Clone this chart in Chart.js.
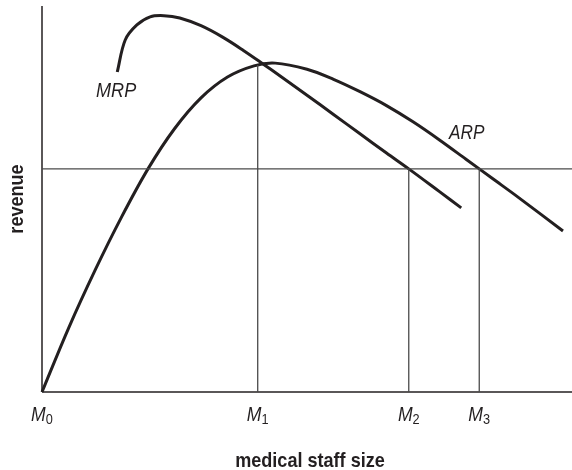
<!DOCTYPE html>
<html>
<head>
<meta charset="utf-8">
<script src="https://cdn.jsdelivr.net/npm/chart.js@4"></script>
<style>
  body { margin: 0; background: #fff; }
  canvas { display: block; }
</style>
</head>
<body>
<canvas id="chart" width="572" height="470"></canvas>
<script>
// curve samples (x: staff size 0-100, y: revenue 0-100)
const mrpX = [14.2, 15.7, 17.9, 20.4, 23, 26, 30, 34, 38, 41.7, 45, 50, 55, 60, 65, 69.2, 75, 79.1];
const mrpY = [82.9, 91.2, 95.1, 97.2, 97.5, 96.9, 94.9, 92.0, 88.5, 85.0, 81.8, 76.9, 71.9, 66.9, 61.9, 57.8, 51.9, 47.7];
const arpX = [0, 5, 10, 15, 20, 25, 30, 35, 40, 44, 50, 55, 60, 65, 70, 75, 80, 85, 90, 98.3];
const arpY = [0, 16.5, 31.5, 45.3, 57.8, 68.2, 76.2, 81.6, 84.5, 85.2, 83.6, 81.0, 77.8, 74.2, 70.0, 65.3, 60.3, 55.3, 50.3, 41.7];

// marked staff sizes M0..M3 and the guide lines
const mPositions = [0, 40.7, 69.2, 82.5];
const mSubs = ["0", "1", "2", "3"];
const levelY = 57.8;
const m1Top = 84.7;

const ink = "#231f20";
const thin = "#4a4a4a";

const toPoints = (xs, ys) => xs.map((x, i) => ({ x, y: ys[i] }));
const seg = (x1, y1, x2, y2) => [{ x: x1, y: y1 }, { x: x2, y: y2 }];

const guide = (data, color, width) => ({
  data,
  borderColor: color,
  borderWidth: width,
  pointRadius: 0,
  showLine: true,
  tension: 0,
  clip: false,
});

const curve = (data) => ({
  data,
  borderColor: ink,
  borderWidth: 3,
  pointRadius: 0,
  showLine: true,
  tension: 0.35,
  clip: false,
});

const textPlugin = {
  id: "labels",
  afterDatasetsDraw(chart) {
    const { ctx, scales } = chart;
    const xs = scales.x;
    const ys = scales.y;
    const axisY = ys.getPixelForValue(0);

    const draw = (text, x, y, font, sx, align) => {
      ctx.save();
      ctx.font = font;
      ctx.fillStyle = ink;
      ctx.textAlign = align;
      ctx.textBaseline = "alphabetic";
      ctx.translate(x, y);
      ctx.scale(sx, 1);
      ctx.fillText(text, 0, 0);
      ctx.restore();
    };

    // M labels with subscripts
    const mFont = "italic 20px 'Liberation Sans', Arial, sans-serif";
    const sFont = "15px 'Liberation Sans', Arial, sans-serif";
    mPositions.forEach((m, i) => {
      ctx.save();
      ctx.font = mFont;
      const mw = ctx.measureText("M").width * 0.88;
      ctx.font = sFont;
      const sw = ctx.measureText(mSubs[i]).width * 0.85;
      ctx.restore();
      const left = xs.getPixelForValue(m) - (mw + sw) / 2;
      draw("M", left, axisY + 29, mFont, 0.88, "left");
      draw(mSubs[i], left + mw, axisY + 32, sFont, 0.85, "left");
    });

    // curve labels
    const cFont = "italic 21px 'Liberation Sans', Arial, sans-serif";
    draw("MRP", xs.getPixelForValue(10.2), ys.getPixelForValue(76.4), cFont, 0.86, "left");
    draw("ARP", xs.getPixelForValue(76.8), ys.getPixelForValue(65.5), cFont, 0.82, "left");

    // axis titles
    const tFont = "bold 21px 'Liberation Sans', Arial, sans-serif";
    draw("medical staff size", (xs.left + xs.right) / 2 + 3, axisY + 75, tFont, 0.86, "center");
    ctx.save();
    ctx.font = tFont;
    ctx.fillStyle = ink;
    ctx.textAlign = "center";
    ctx.translate(23, (ys.top + ys.bottom) / 2);
    ctx.rotate(-Math.PI / 2);
    ctx.scale(0.86, 1);
    ctx.fillText("revenue", 0, 0);
    ctx.restore();
  },
};

new Chart(document.getElementById("chart"), {
  type: "scatter",
  data: {
    datasets: [
      guide(seg(0, levelY, 100, levelY), thin, 1.3),
      guide(seg(mPositions[1], 0, mPositions[1], m1Top), thin, 1.3),
      guide(seg(mPositions[2], 0, mPositions[2], levelY), thin, 1.3),
      guide(seg(mPositions[3], 0, mPositions[3], levelY), thin, 1.3),
      guide(seg(0, 0, 0, 100), ink, 1.5),
      guide(seg(0, 0, 100, 0), ink, 1.5),
      curve(toPoints(mrpX, mrpY)),
      curve(toPoints(arpX, arpY)),
    ],
  },
  options: {
    responsive: false,
    animation: false,
    layout: { padding: { left: 42, top: 6, right: 0, bottom: 78 } },
    plugins: { legend: { display: false }, tooltip: { enabled: false } },
    scales: {
      x: { type: "linear", min: 0, max: 100, display: false },
      y: { type: "linear", min: 0, max: 100, display: false },
    },
  },
  plugins: [textPlugin],
});
</script>
</body>
</html>
